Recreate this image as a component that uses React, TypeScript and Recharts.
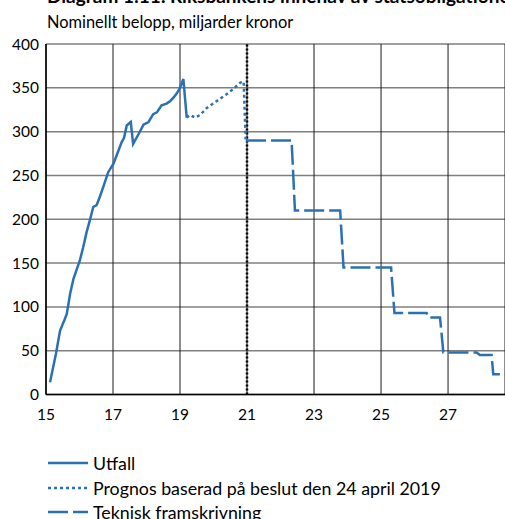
import React from "react";
import {
  LineChart,
  Line,
  XAxis,
  YAxis,
  CartesianGrid,
  ReferenceLine,
} from "recharts";

const xTicks = [15, 17, 19, 21, 23, 25, 27];
const yTicks = [0, 50, 100, 150, 200, 250, 300, 350, 400];

// [year, value] — Utfall (outcome)
const utfallPts: [number, number][] = [
  [15.12, 14], [15.3, 47], [15.42, 73], [15.55, 85], [15.62, 92],
  [15.72, 115], [15.82, 132], [15.92, 143], [16.01, 153], [16.11, 168],
  [16.21, 185], [16.31, 199], [16.41, 214], [16.51, 216], [16.61, 226],
  [16.71, 237], [16.86, 254], [17.01, 263], [17.11, 273], [17.26, 288],
  [17.33, 293], [17.41, 307], [17.53, 311], [17.6, 286], [17.76, 297],
  [17.91, 308], [18.06, 311], [18.2, 320], [18.31, 322], [18.45, 330],
  [18.6, 332], [18.71, 335], [18.81, 339], [18.91, 344], [19.0, 350],
  [19.1, 360], [19.2, 316],
];

// Prognos baserad på beslut den 24 april 2019
const prognosPts: [number, number][] = [
  [19.2, 316], [19.3, 319], [19.45, 316], [19.6, 319], [19.8, 327],
  [20.1, 335], [20.4, 343], [20.6, 349], [20.8, 356], [20.9, 357],
  [20.96, 291],
];

// Teknisk framskrivning
const tekniskPts: [number, number][] = [
  [20.97, 290], [22.33, 290], [22.43, 210], [23.78, 210], [23.88, 145],
  [25.3, 145], [25.4, 93], [26.36, 93], [26.42, 88], [26.76, 88],
  [26.86, 48], [27.85, 48], [27.95, 45], [28.3, 45], [28.35, 23], [28.7, 23],
];

const toRows = (pts: [number, number][]) => pts.map(([x, v]) => ({ x, v }));

const BLUE = "#2a71b4";
const FONT = "Lato, 'Noto Sans', sans-serif";

export default function App() {
  return (
    <div
      style={{
        position: "absolute",
        left: 0,
        top: 0,
        width: 505,
        height: 519,
        overflow: "hidden",
        background: "#fff",
        fontFamily: FONT,
      }}
    >
      <div
        style={{
          position: "absolute",
          left: 47,
          top: -16,
          fontSize: 19,
          fontWeight: 700,
          lineHeight: "23px",
          whiteSpace: "nowrap",
          color: "#000",
        }}
      >
        Diagram 1:11. Riksbankens innehav av statsobligationer
      </div>
      <div
        style={{
          position: "absolute",
          left: 47,
          top: 12,
          fontSize: 16.4,
          lineHeight: "20px",
          whiteSpace: "nowrap",
          color: "#000",
        }}
      >
        Nominellt belopp, miljarder kronor
      </div>
      <div style={{ position: "absolute", left: 0, top: 0 }}>
        <LineChart
          width={505}
          height={519}
          margin={{ top: 44, right: 0, bottom: 94.5, left: 0 }}
        >
          <CartesianGrid
            horizontal={true}
            vertical={false}
            stroke="#7f7f7f"
            strokeWidth={1.5}
          />
          <CartesianGrid
            horizontal={false}
            vertical={true}
            stroke="#1a1a1a"
            strokeWidth={1}
          />
          <XAxis
            type="number"
            dataKey="x"
            domain={[15, 28.7]}
            ticks={xTicks}
            allowDataOverflow
            height={30}
            tickSize={0}
            tickMargin={14}
            axisLine={{ stroke: "#000", strokeWidth: 1.5 }}
            tick={{ fill: "#000", fontSize: 15.5, fontFamily: FONT }}
          />
          <YAxis
            type="number"
            domain={[0, 400]}
            ticks={yTicks}
            width={46}
            tickSize={0}
            tickMargin={7}
            axisLine={{ stroke: "#000", strokeWidth: 1.5 }}
            tick={{ fill: "#000", fontSize: 15.5, fontFamily: FONT }}
          />
          <ReferenceLine
            x={21}
            stroke="#000"
            strokeWidth={2.5}
            strokeDasharray="2 2"
          />
          <Line
            data={toRows(utfallPts)}
            dataKey="v"
            stroke={BLUE}
            strokeWidth={2.5}
            dot={false}
            isAnimationActive={false}
          />
          <Line
            data={toRows(prognosPts)}
            dataKey="v"
            stroke={BLUE}
            strokeWidth={2.5}
            strokeDasharray="3 3"
            dot={false}
            isAnimationActive={false}
          />
          <Line
            data={toRows(tekniskPts)}
            dataKey="v"
            stroke={BLUE}
            strokeWidth={2.5}
            strokeDasharray="20 5"
            dot={false}
            isAnimationActive={false}
          />
        </LineChart>
      </div>
      {[
        { label: "Utfall", dash: undefined as string | undefined },
        { label: "Prognos baserad på beslut den 24 april 2019", dash: "3 3" },
        { label: "Teknisk framskrivning", dash: "20 5" },
      ].map((e, i) => (
        <div
          key={e.label}
          style={{
            position: "absolute",
            left: 48,
            top: 463.3 + i * 24.3 - 12,
            height: 24,
            display: "flex",
            alignItems: "center",
            whiteSpace: "nowrap",
            fontSize: 17.8,
            color: "#000",
          }}
        >
          <svg width={40} height={6} style={{ marginRight: 5 }}>
            <line
              x1={0}
              y1={3}
              x2={40}
              y2={3}
              stroke={BLUE}
              strokeWidth={2.5}
              strokeDasharray={e.dash}
            />
          </svg>
          <span>{e.label}</span>
        </div>
      ))}
    </div>
  );
}
